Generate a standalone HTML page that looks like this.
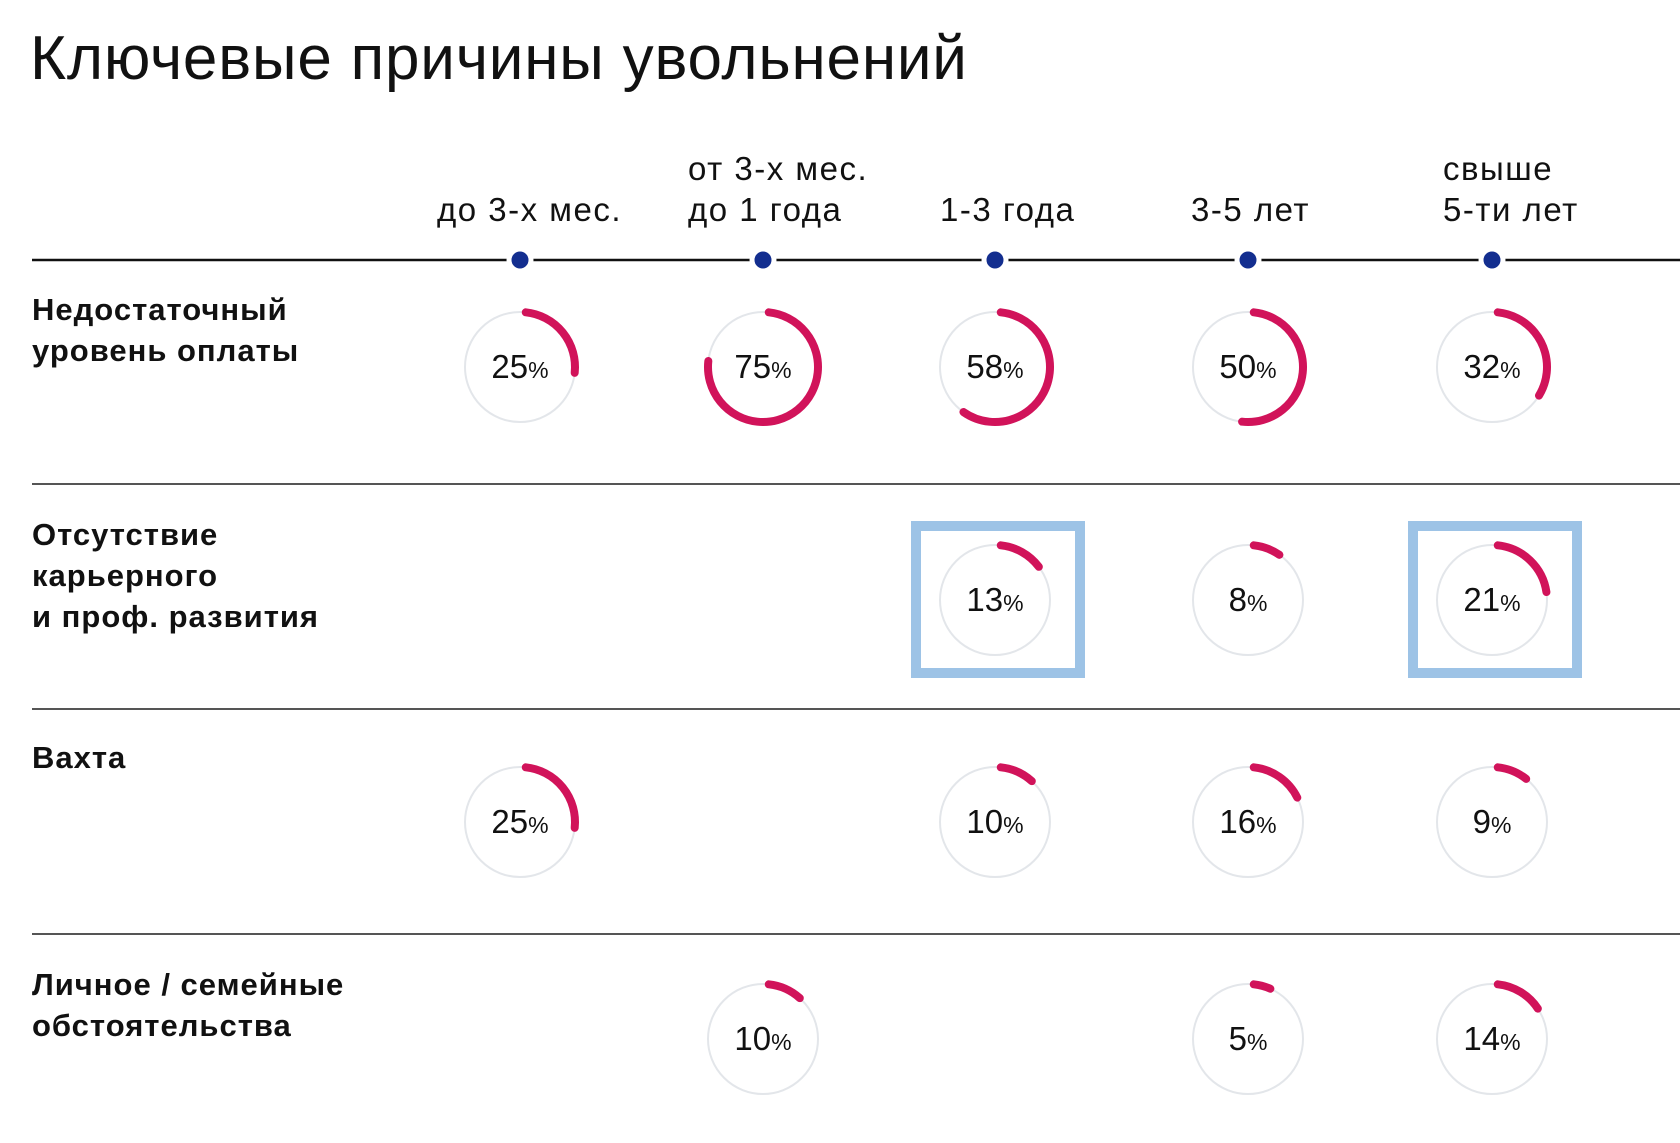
<!DOCTYPE html>
<html><head><meta charset="utf-8">
<style>
html,body{margin:0;padding:0;background:#fff;}
body{width:1680px;height:1138px;overflow:hidden;font-family:"Liberation Sans","DejaVu Sans",sans-serif;}
</style></head>
<body>
<svg id="chart" width="1680" height="1138" xmlns="http://www.w3.org/2000/svg" font-family="Liberation Sans, DejaVu Sans, sans-serif">
<text x="30" y="79" font-size="62" letter-spacing="0.8" fill="#111">Ключевые причины увольнений</text>
</svg>
<script>
const columns = [["до 3-х мес."],["от 3-х мес.","до 1 года"],["1-3 года"],["3-5 лет"],["свыше","5-ти лет"]];
const rowLabels = [["Недостаточный","уровень оплаты"],["Отсутствие","карьерного","и проф. развития"],["Вахта"],["Личное / семейные","обстоятельства"]];
const row1 = [25,75,58,50,32];
const row2 = [null,null,13,8,21];
const row3 = [25,null,10,16,9];
const row4 = [null,10,null,5,14];
const highlighted = [[1,2],[1,4]];
const values = [row1,row2,row3,row4];

const NS="http://www.w3.org/2000/svg";
const svg=document.getElementById('chart');
const colX=[520,763,995,1248,1492];
const headerLeft=[437,688,940,1191,1443];
const rowY=[367,600,822,1039];
const labelY=[309,534,757,984];
const dividers=[484,709,934];
const R=55;
function el(t,a){const e=document.createElementNS(NS,t);for(const k in a)e.setAttribute(k,a[k]);svg.appendChild(e);return e;}

let tl=el('line',{x1:32,y1:260,x2:1680,y2:260,stroke:'#111','stroke-width':2.5});


columns.forEach((lines,i)=>{
  const d=el('circle',{cx:colX[i],cy:260,r:11,fill:'#132e8f',stroke:'#fff','stroke-width':5});
  
  
  lines.forEach((s,j)=>{
    const y=210-(lines.length-1-j)*41;
    const t=el('text',{x:headerLeft[i],y:y+11,'font-size':33,'letter-spacing':1.5,fill:'#111'});
    t.textContent=s;
    
    
  });
});
dividers.forEach(y=>{
  const l=el('line',{x1:32,y1:y,x2:1680,y2:y,stroke:'#555','stroke-width':2});
  
  
});
rowLabels.forEach((lines,r)=>{
  lines.forEach((s,j)=>{
    const t=el('text',{x:32,y:labelY[r]+11+j*41,'font-size':31,'font-weight':'bold','letter-spacing':1,fill:'#111'});
    t.textContent=s;
    
    
  });
});
highlighted.forEach(([r,c])=>{
  const b=el('rect',{x:colX[c]-84+5,y:rowY[r]-79+5,width:174-10,height:157-10,fill:'none',stroke:'#9dc3e6','stroke-width':10});
  
  
});
const C=2*Math.PI*R;
values.forEach((row,r)=>{
  row.forEach((v,c)=>{
    if(v==null)return;
    const cx=colX[c],cy=rowY[r];
    const bg=el('circle',{cx:cx,cy:cy,r:R,fill:'none',stroke:'#e3e6ea','stroke-width':2});
    
    
    const a=el('circle',{cx:cx,cy:cy,r:R,fill:'none',stroke:'#d1135a','stroke-width':8,'stroke-linecap':'round',
      'stroke-dasharray':(C*v/100)+' '+C,transform:'rotate(-84 '+cx+' '+cy+')'});
    
    
    const t=el('text',{x:cx,y:cy+11,'font-size':33,fill:'#111','text-anchor':'middle'});
    t.innerHTML=v+'<tspan font-size="23">%</tspan>';
    
    
  });
});
</script>
</body></html>
